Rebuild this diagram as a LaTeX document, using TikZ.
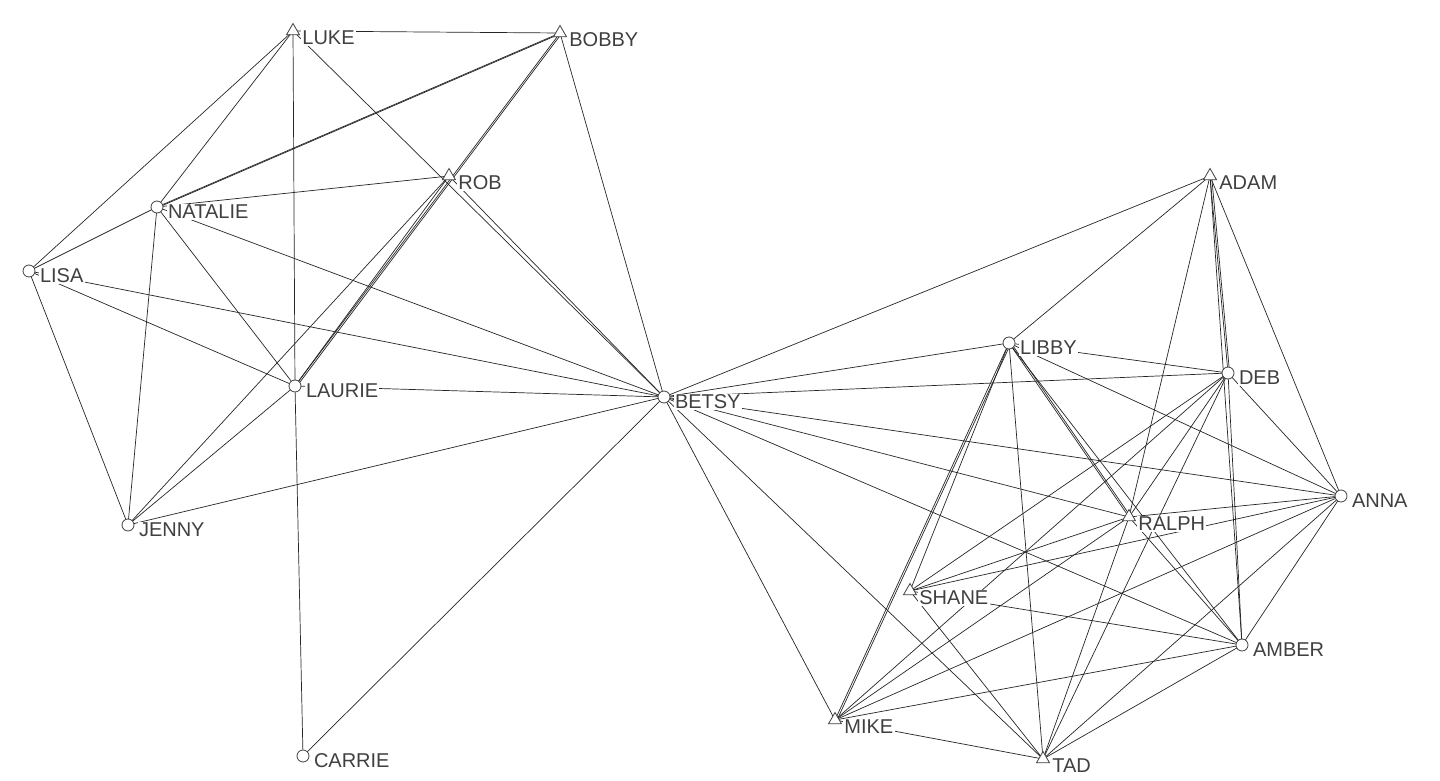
\documentclass[tikz,border=0pt]{standalone}
\usepackage{fontspec}
\setmainfont{Liberation Sans}
\usetikzlibrary{shapes.geometric}
\definecolor{ink}{HTML}{404040}
\tikzset{
  px/.style={x=0.5pt,y=-0.5pt},
  edge/.style={draw=black!85,line width=0.35pt},
  cnode/.style={circle,draw=ink,fill=white,minimum size=6pt,inner sep=0pt,line width=0.4pt},
  tnode/.style={regular polygon,regular polygon sides=3,draw=ink,fill=white,minimum size=7.5pt,inner sep=0pt,line width=0.4pt},
  lab/.style={anchor=west,font=\fontsize{10}{10}\selectfont,text=ink,fill=white,inner sep=0.6pt,yshift=-2.5pt,xshift=1.5pt}
}
\begin{document}
\begin{tikzpicture}[px]
\useasboundingbox (0,0) rectangle (1440,781);
\fill[white] (0,0) rectangle (1440,781);
\foreach \n/\x/\y in {LUKE/293/31,BOBBY/560/33,ROB/449/176,ADAM/1210/176,SHANE/910/591,MIKE/835,720/x,RALPH/1129/517,TAD/1043/759}{}
% coordinates
\coordinate (LUKE) at (293,31);
\coordinate (BOBBY) at (560,33);
\coordinate (ROB) at (449,176);
\coordinate (NATALIE) at (157,207);
\coordinate (LISA) at (29,271);
\coordinate (LAURIE) at (295,386);
\coordinate (JENNY) at (128,525);
\coordinate (CARRIE) at (303,756);
\coordinate (BETSY) at (664,397);
\coordinate (ADAM) at (1210,176);
\coordinate (LIBBY) at (1009,343);
\coordinate (DEB) at (1228,373);
\coordinate (ANNA) at (1341,496);
\coordinate (RALPH) at (1129,517);
\coordinate (SHANE) at (910,591);
\coordinate (AMBER) at (1242,645);
\coordinate (MIKE) at (835,720);
\coordinate (TAD) at (1043,759);
% edges
\foreach \a/\b in {LUKE/BOBBY,LUKE/LISA,LUKE/NATALIE,LUKE/LAURIE,LUKE/BETSY,ROB/BETSY,
  NATALIE/BOBBY,NATALIE/ROB,NATALIE/LISA,NATALIE/JENNY,NATALIE/LAURIE,NATALIE/BETSY,
  BOBBY/LAURIE,BOBBY/BETSY,ROB/LAURIE,ROB/JENNY,LISA/JENNY,LISA/LAURIE,LISA/BETSY,
  LAURIE/JENNY,LAURIE/BETSY,LAURIE/CARRIE,JENNY/BETSY,CARRIE/BETSY,
  BETSY/ADAM,BETSY/LIBBY,BETSY/DEB,BETSY/ANNA,BETSY/RALPH,BETSY/AMBER,BETSY/TAD,BETSY/MIKE,
  ADAM/LIBBY,ADAM/DEB,ADAM/AMBER,ADAM/ANNA,ADAM/RALPH,
  LIBBY/DEB,LIBBY/ANNA,LIBBY/RALPH,LIBBY/AMBER,LIBBY/SHANE,LIBBY/MIKE,LIBBY/TAD,
  DEB/SHANE,DEB/MIKE,DEB/TAD,DEB/AMBER,DEB/RALPH,DEB/ANNA,
  ANNA/RALPH,ANNA/SHANE,ANNA/MIKE,ANNA/TAD,ANNA/AMBER,
  RALPH/SHANE,RALPH/MIKE,RALPH/TAD,RALPH/AMBER,
  SHANE/AMBER,SHANE/TAD,AMBER/MIKE,AMBER/TAD,MIKE/TAD}
  \draw[edge] (\a) -- (\b);
% doubled reciprocal lines
\draw[edge,transform canvas={xshift=1pt}] (NATALIE) -- (BOBBY);
\draw[edge,transform canvas={xshift=1pt}] (BOBBY) -- (LAURIE);
\draw[edge,transform canvas={xshift=0.8pt}] (ADAM) -- (DEB);
\draw[edge,transform canvas={xshift=1pt}] (LIBBY) -- (RALPH);
\draw[edge,transform canvas={xshift=1pt}] (LIBBY) -- (MIKE);
% markers and labels
\foreach \n in {NATALIE,LISA,LAURIE,JENNY,CARRIE,BETSY,LIBBY,DEB,ANNA,AMBER}{
  \node[cnode] (\n-m) at (\n) {};
  \node[lab] (\n-l) at (\n-m.east) {\n};
}
\foreach \n in {LUKE,BOBBY,ROB,ADAM,RALPH,SHANE,MIKE,TAD}{
  \node[tnode] (\n-m) at (\n) {};
  \node[lab] (\n-l) at ([yshift=-1pt]\n-m.east) {\n};
}
\end{tikzpicture}
\end{document}
